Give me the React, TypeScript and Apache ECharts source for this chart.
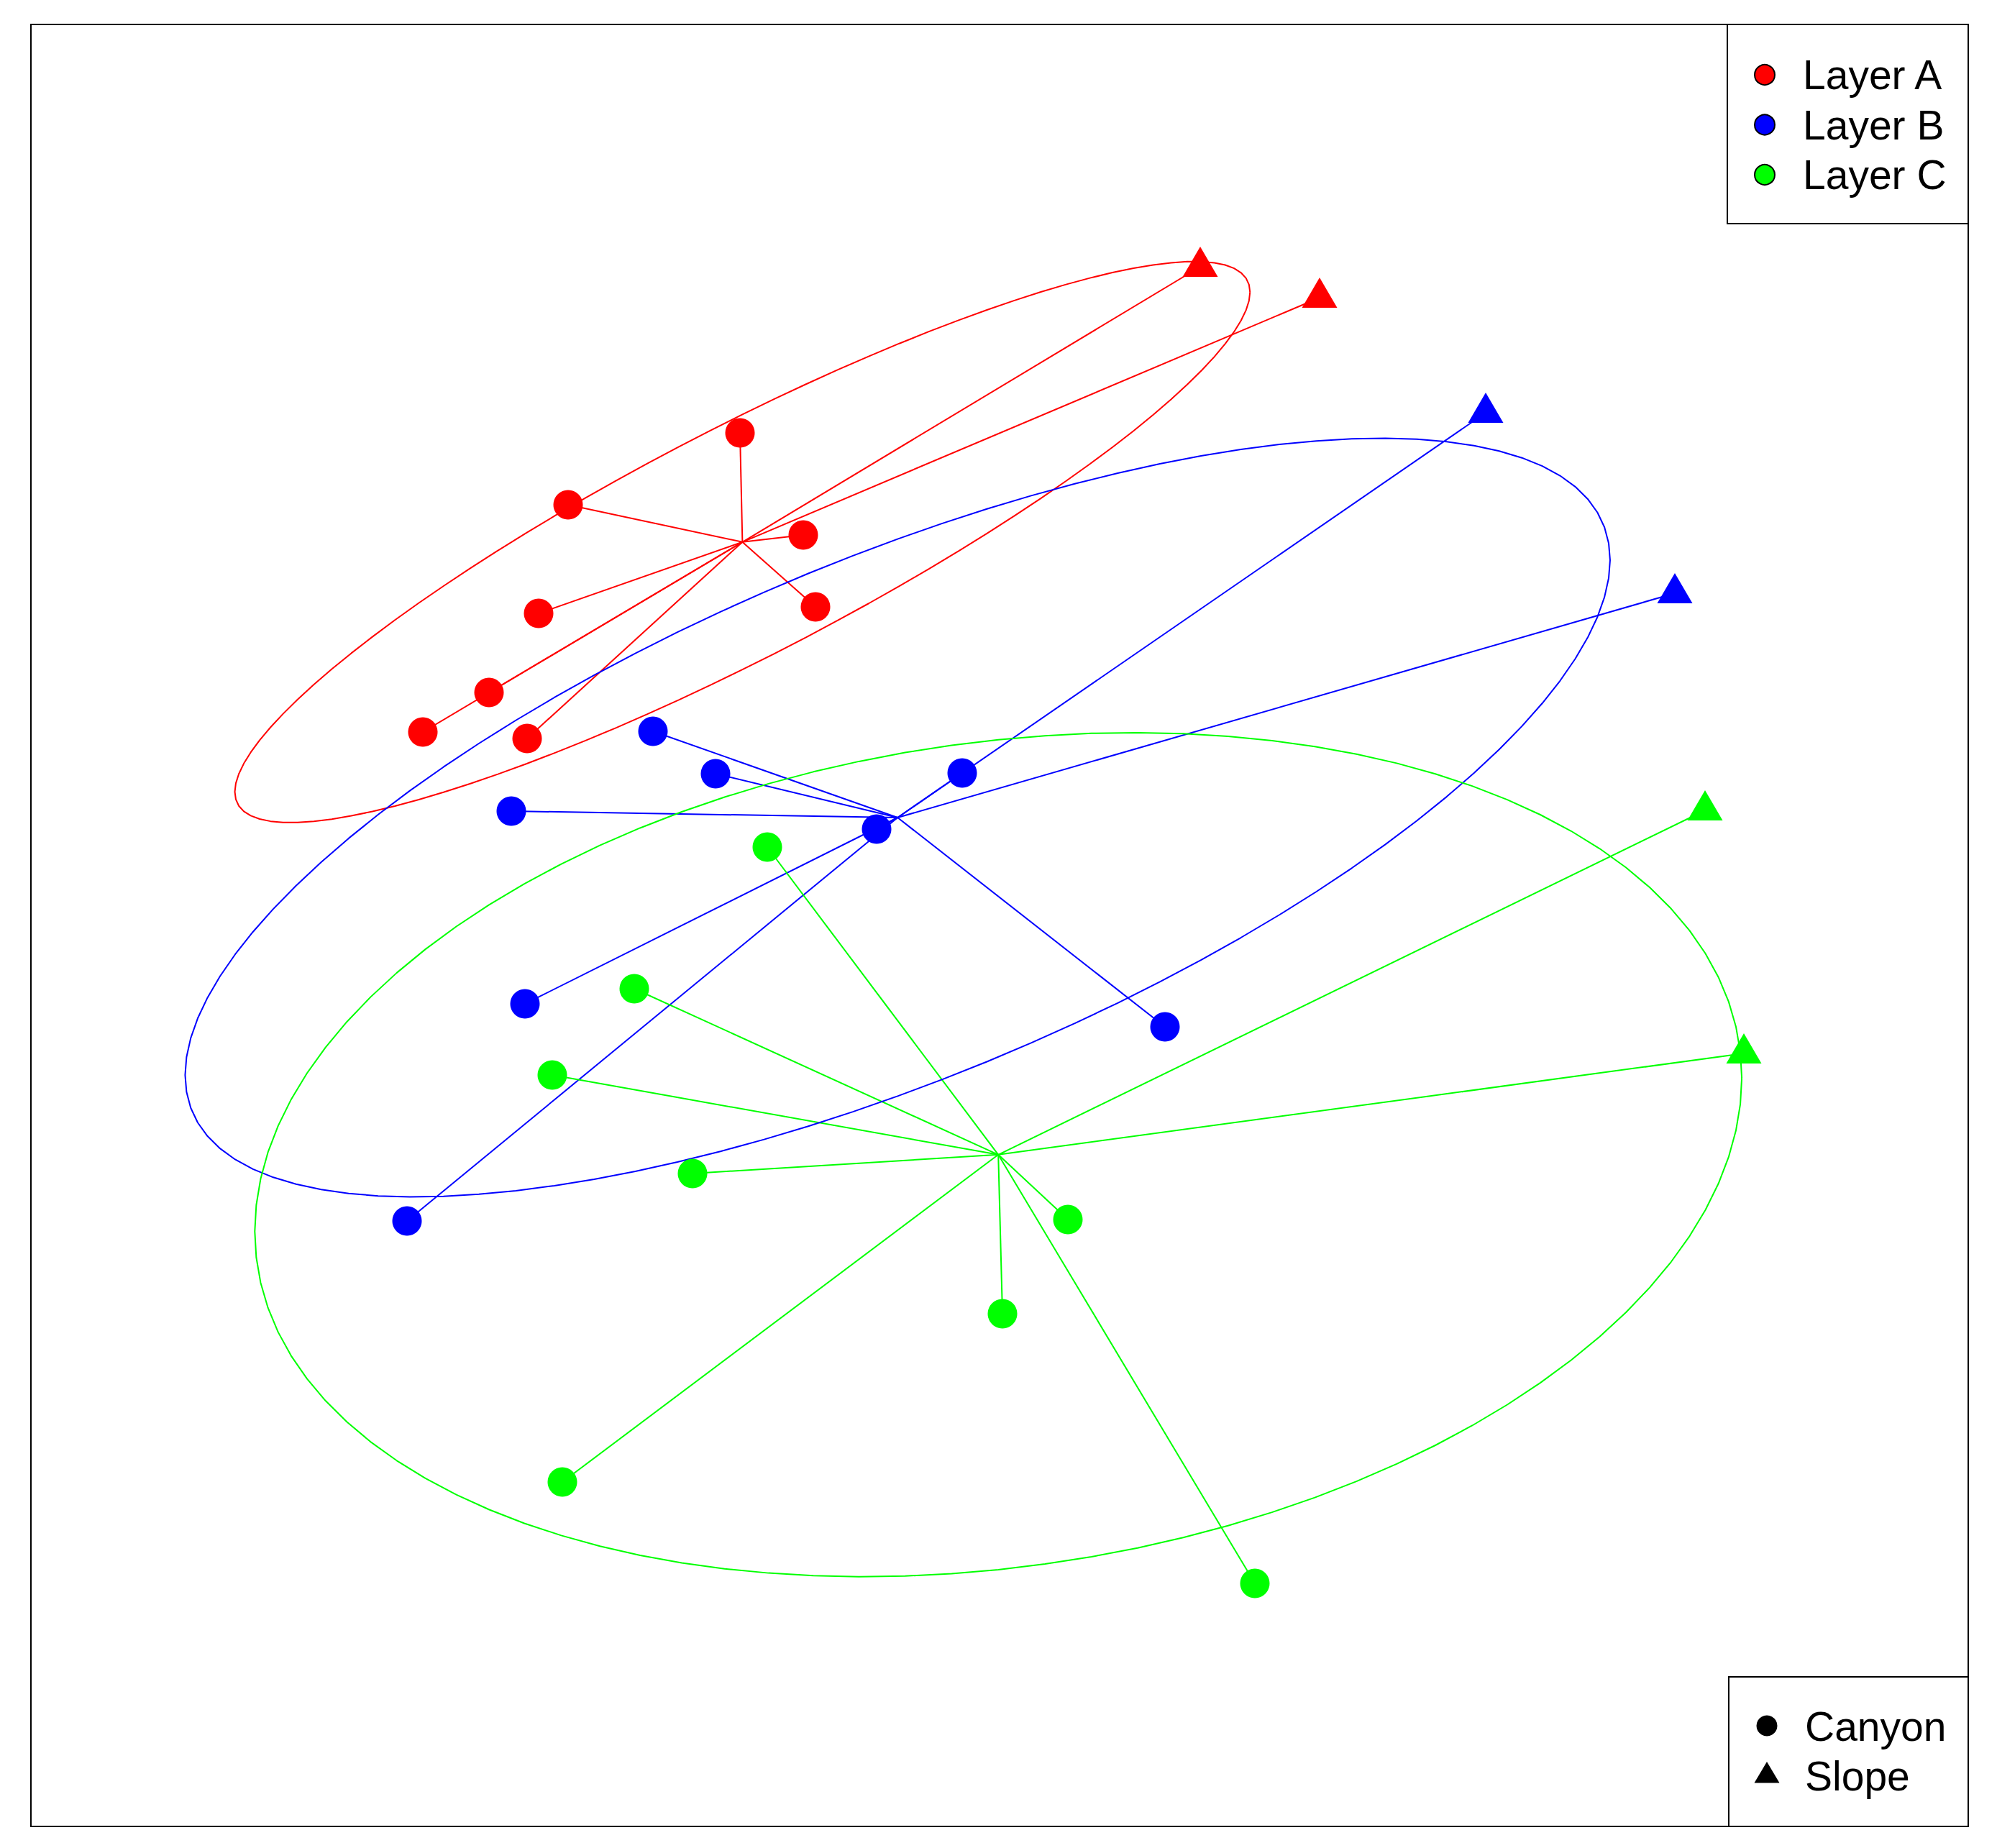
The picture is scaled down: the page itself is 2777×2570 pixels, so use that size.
import React, { useEffect, useRef } from "react";
import * as echarts from "echarts";

// Group names and colours
const layerNames = ["Layer A", "Layer B", "Layer C"];
const layerColors = ["#FF0000", "#0000FF", "#00FF00"];
const habitatNames = ["Canyon", "Slope"];

// NMDS ordination scores
const layerACanyonX = [-0.361, -0.6, -0.273, -0.641, -0.256, -0.71, -0.802, -0.657];
const layerACanyonY = [0.685, 0.585, 0.543, 0.434, 0.443, 0.324, 0.269, 0.26];
const layerASlopeX = [0.279, 0.445];
const layerASlopeY = [0.916, 0.873];

const layerBCanyonX = [-0.482, -0.395, -0.052, -0.679, -0.171, -0.66, 0.23, -0.824];
const layerBCanyonY = [0.27, 0.211, 0.212, 0.159, 0.134, -0.109, -0.141, -0.411];
const layerBSlopeX = [0.676, 0.939];
const layerBSlopeY = [0.713, 0.462];

const layerCCanyonX = [-0.323, -0.508, -0.622, -0.427, 0.095, 0.004, -0.608, 0.355];
const layerCCanyonY = [0.109, -0.088, -0.208, -0.345, -0.409, -0.54, -0.774, -0.915];
const layerCSlopeX = [0.981, 1.035];
const layerCSlopeY = [0.16, -0.178];

// Plot limits
const xLimits = [-1.347, 1.347];
const yLimits = [-1.253, 1.253];

// ellipse confidence (sd ellipse, conf = 0.75)
const ellipseConf = 0.75;

const groups = [
  { cx: layerACanyonX, cy: layerACanyonY, sx: layerASlopeX, sy: layerASlopeY },
  { cx: layerBCanyonX, cy: layerBCanyonY, sx: layerBSlopeX, sy: layerBSlopeY },
  { cx: layerCCanyonX, cy: layerCCanyonY, sx: layerCSlopeX, sy: layerCSlopeY },
];

function zip(xs: number[], ys: number[]) {
  return xs.map((x, i) => [x, ys[i]]);
}

function covEllipse(xs: number[], ys: number[]) {
  const n = xs.length;
  const mx = xs.reduce((a, b) => a + b, 0) / n;
  const my = ys.reduce((a, b) => a + b, 0) / n;
  let sxx = 0, syy = 0, sxy = 0;
  for (let i = 0; i < n; i++) {
    sxx += (xs[i] - mx) ** 2;
    syy += (ys[i] - my) ** 2;
    sxy += (xs[i] - mx) * (ys[i] - my);
  }
  sxx /= n - 1; syy /= n - 1; sxy /= n - 1;
  const u11 = Math.sqrt(sxx);
  const u12 = sxy / u11;
  const u22 = Math.sqrt(Math.max(syy - u12 * u12, 0));
  const scale = Math.sqrt(-2 * Math.log(1 - ellipseConf));
  const pts: number[][] = [];
  const np = 100;
  for (let k = 0; k <= np; k++) {
    const th = (k * 2 * Math.PI) / np;
    const c = Math.cos(th), s = Math.sin(th);
    pts.push([mx + scale * c * u11, my + scale * (c * u12 + s * u22)]);
  }
  return { center: [mx, my], pts };
}

export default function App() {
  const ref = useRef<HTMLDivElement>(null);
  useEffect(() => {
    document.body.style.margin = "0";
    if (!ref.current) return;
    const chart = echarts.init(ref.current, undefined, { renderer: "svg" });
    const series: any[] = [];
    groups.forEach((g, gi) => {
      const allX = g.cx.concat(g.sx);
      const allY = g.cy.concat(g.sy);
      const el = covEllipse(allX, allY);
      const color = layerColors[gi];
      series.push({
        type: "line",
        name: layerNames[gi] + " ellipse",
        data: el.pts,
        showSymbol: false,
        symbol: "none",
        smooth: false,
        lineStyle: { color, width: 2 },
        z: 2,
        silent: true,
      });
      series.push({
        type: "lines",
        name: layerNames[gi] + " spider",
        coordinateSystem: "cartesian2d",
        data: zip(allX, allY).map((p) => ({ coords: [el.center, p] })),
        lineStyle: { color, width: 2, opacity: 1 },
        z: 2,
        silent: true,
      });
    });
    groups.forEach((g, gi) => {
      const color = layerColors[gi];
      series.push({
        type: "scatter",
        name: layerNames[gi] + " " + habitatNames[0],
        data: zip(g.cx, g.cy),
        symbol: "circle",
        symbolSize: 41,
        itemStyle: { color, opacity: 1 },
        z: 3,
      });
      series.push({
        type: "scatter",
        name: layerNames[gi] + " " + habitatNames[1],
        data: zip(g.sx, g.sy),
        symbol: "triangle",
        symbolSize: [49, 42],
        symbolOffset: [0, -7],
        itemStyle: { color, opacity: 1 },
        z: 3,
      });
    });

    const font = "57px 'Liberation Sans', Arial, sans-serif";
    const textStyle = (text: string, x: number, y: number) => ({
      type: "text",
      x,
      y,
      z: 100,
      style: {
        text,
        font,
        fill: "#000",
        textAlign: "left",
        textVerticalAlign: "middle",
        verticalAlign: "middle",
      },
    });
    const layerY = [104, 173.5, 243];
    const graphics: any[] = [
      {
        type: "rect",
        z: 99,
        shape: { x: 2402, y: 34, width: 335, height: 277 },
        style: { fill: "#fff", stroke: "#000", lineWidth: 2 },
      },
      ...layerNames.map((nm, i) => ({
        type: "circle",
        z: 100,
        shape: { cx: 2454, cy: layerY[i], r: 14 },
        style: { fill: layerColors[i], stroke: "#000", lineWidth: 2 },
      })),
      ...layerNames.map((nm, i) => textStyle(nm, 2507, layerY[i])),
      {
        type: "rect",
        z: 99,
        shape: { x: 2404, y: 2332, width: 333, height: 208 },
        style: { fill: "#fff", stroke: "#000", lineWidth: 2 },
      },
      {
        type: "circle",
        z: 100,
        shape: { cx: 2457, cy: 2400, r: 14.5 },
        style: { fill: "#000" },
      },
      {
        type: "polygon",
        z: 100,
        shape: { points: [[2457, 2450], [2474.5, 2479.5], [2439.5, 2479.5]] },
        style: { fill: "#000" },
      },
      textStyle(habitatNames[0], 2510, 2400.5),
      textStyle(habitatNames[1], 2510, 2469.5),
    ];

    chart.setOption({
      animation: false,
      backgroundColor: "#fff",
      grid: {
        left: 43,
        top: 34,
        width: 2694,
        height: 2506,
        show: true,
        borderColor: "#000",
        borderWidth: 2,
        backgroundColor: "transparent",
      },
      xAxis: {
        type: "value",
        min: xLimits[0],
        max: xLimits[1],
        show: false,
        splitLine: { show: false },
      },
      yAxis: {
        type: "value",
        min: yLimits[0],
        max: yLimits[1],
        show: false,
        splitLine: { show: false },
      },
      series,
      graphic: graphics,
    });
    return () => chart.dispose();
  }, []);
  return <div ref={ref} style={{ width: 2777, height: 2570 }} />;
}
